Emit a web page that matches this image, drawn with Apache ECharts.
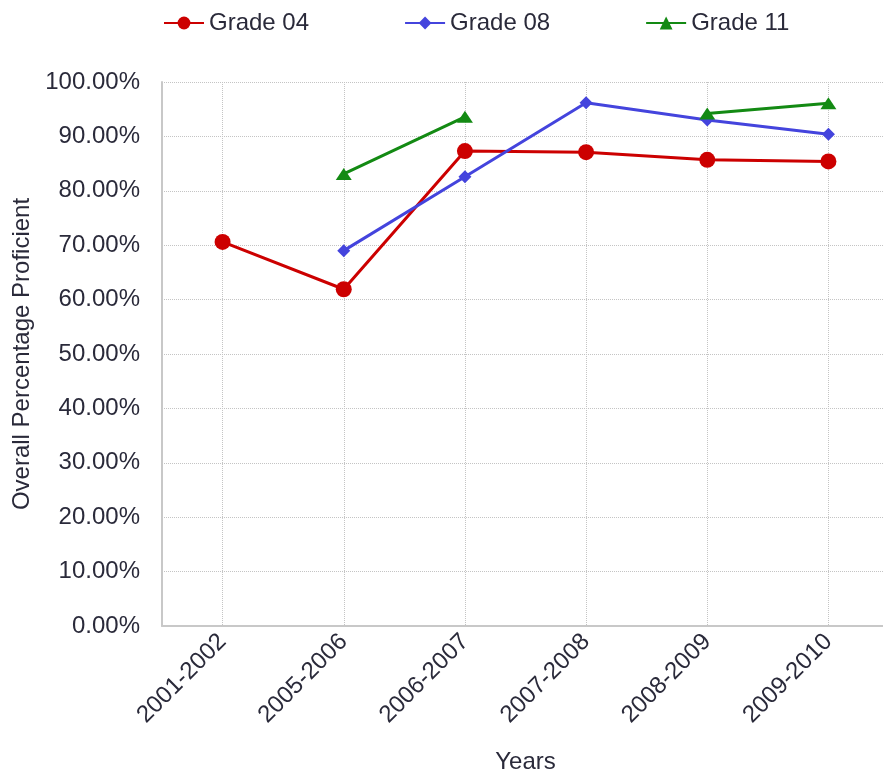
<!DOCTYPE html>
<html>
<head>
<meta charset="utf-8">
<script src="https://cdn.jsdelivr.net/npm/echarts@6/dist/echarts.min.js"></script>
<style>
html,body{margin:0;padding:0;background:#fff;}
#chart{width:883px;height:774px;}
</style>
</head>
<body>
<div id="chart"></div>
<script>
const categories = ['2001-2002','2005-2006','2006-2007','2007-2008','2008-2009','2009-2010'];
const grade04 = [70.6, 61.9, 87.3, 87.1, 85.7, 85.4];
const grade08 = [null, 69.0, 82.6, 96.2, 93.0, 90.4];
const grade11 = [null, 83.1, 93.6, null, 94.2, 96.1];
const yTicks = [0, 10, 20, 30, 40, 50, 60, 70, 80, 90, 100];

const FONT = 'Liberation Sans, Arial, sans-serif';
const TXT = '#2a2a3a';

const chart = echarts.init(document.getElementById('chart'));
chart.setOption({
  animation: false,
  textStyle: { fontFamily: FONT },
  legend: {
    top: 6, left: 158,
    itemWidth: 40, itemHeight: 16, itemGap: 95,
    textStyle: { fontSize: 24, color: TXT, fontFamily: FONT },
    data: ['Grade 04', 'Grade 08', 'Grade 11']
  },
  grid: { left: 162, top: 82, width: 727, height: 544, containLabel: false, outerBoundsMode: 'none' },
  xAxis: {
    type: 'category',
    data: categories,
    boundaryGap: true,
    name: 'Years',
    nameLocation: 'middle',
    nameGap: 124,
    nameTextStyle: { fontSize: 24, color: TXT },
    axisLine: { lineStyle: { color: '#c8c8c8', width: 2 } },
    axisTick: { show: false },
    axisLabel: { rotate: 45, fontSize: 24, color: TXT, margin: 12, interval: 0 },
    splitLine: { show: true, alignWithLabel: true, lineStyle: { type: 'dotted', color: '#c4c4c4', width: 1 } }
  },
  yAxis: {
    type: 'value',
    min: yTicks[0], max: yTicks[yTicks.length - 1], interval: 10,
    name: 'Overall Percentage Proficient',
    nameLocation: 'middle',
    nameGap: 128,
    nameTextStyle: { fontSize: 24, color: TXT },
    axisLine: { show: true, lineStyle: { color: '#c8c8c8', width: 2 } },
    axisTick: { show: false },
    axisLabel: { fontSize: 24, color: TXT, margin: 22, formatter: v => v.toFixed(2) + '%' },
    splitLine: { show: true, lineStyle: { type: 'dotted', color: '#c4c4c4', width: 1 } }
  },
  series: [
    { name: 'Grade 04', type: 'line', data: grade04, symbol: 'circle', symbolSize: 16,
      connectNulls: false, color: '#cc0000', lineStyle: { width: 3 } },
    { name: 'Grade 08', type: 'line', data: grade08, symbol: 'diamond', symbolSize: 13,
      connectNulls: false, color: '#4444dd', lineStyle: { width: 3 } },
    { name: 'Grade 11', type: 'line', data: grade11, symbol: 'triangle', symbolSize: [16, 12],
      connectNulls: false, color: '#138a13', lineStyle: { width: 3 } }
  ]
});
</script>
</body>
</html>
